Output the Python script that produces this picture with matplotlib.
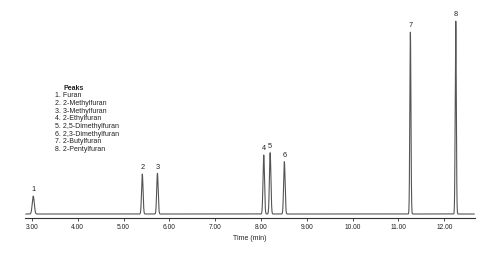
import numpy as np
import matplotlib.pyplot as plt
from matplotlib.ticker import FormatStrFormatter

plt.rcParams['font.family'] = ['Liberation Sans', 'DejaVu Sans']

# Peak table
peak_ids = [1, 2, 3, 4, 5, 6, 7, 8]
peak_names = ["Furan", "2-Methylfuran", "3-Methylfuran", "2-Ethylfuran",
              "2,5-Dimethylfuran", "2,3-Dimethylfuran", "2-Butylfuran",
              "2-Pentylfuran"]
retention_times = [3.03, 5.41, 5.74, 8.06, 8.20, 8.51, 11.26, 12.25]
peak_heights = [9.3, 20.7, 21.1, 30.6, 31.8, 27.1, 94.3, 100.0]
peak_widths = [0.022, 0.016, 0.016, 0.016, 0.016, 0.016, 0.012, 0.012]

tick_values = [3, 4, 5, 6, 7, 8, 9, 10, 11, 12]

# Build the trace as a sum of gaussian peaks
t = np.linspace(2.87, 12.65, 6000)
signal = np.zeros_like(t)
for rt, h, w in zip(retention_times, peak_heights, peak_widths):
    signal += h * np.exp(-0.5 * ((t - rt) / w) ** 2)

fig = plt.figure(figsize=(5, 2.54), dpi=100)
ax = fig.add_axes([0.05, 218 / 254 * 0 + 36 / 254, 0.90, 208 / 254])

ax.plot(t, signal, color="#555555", linewidth=0.8)

# Peak numbers above each peak
for pid, rt, h in zip(peak_ids, retention_times, peak_heights):
    ax.annotate(str(pid), xy=(rt, h), xytext=(0, 2), textcoords="offset points",
                ha="center", va="bottom", fontsize=5.3, color="#222222")

ax.set_xlim(2.85, 12.67)
ax.set_ylim(-2.07, 105.7)

for side in ["left", "right", "top"]:
    ax.spines[side].set_visible(False)
ax.spines["bottom"].set_color("#333333")
ax.spines["bottom"].set_linewidth(0.8)
ax.set_yticks([])

ax.set_xticks(tick_values)
ax.xaxis.set_major_formatter(FormatStrFormatter("%.2f"))
ax.tick_params(axis="x", direction="out", length=2.5, width=0.6,
               color="#333333", labelsize=4.8, pad=1.5, labelcolor="#222222")
ax.set_xlabel("Time (min)", fontsize=5, labelpad=3, color="#222222")

# Peak list in the upper left
fig.text(63 / 500, 1 - 88 / 254, "Peaks", fontsize=5, fontweight="bold",
         ha="left", va="center", color="#222222")
for i, (pid, name) in enumerate(zip(peak_ids, peak_names)):
    y = 1 - (95.7 + 7.7 * i) / 254
    fig.text(55 / 500, y, f"{pid}. {name}", fontsize=5, ha="left",
             va="center", color="#222222")

fig.savefig("out.png", dpi=100)
plt.close(fig)
